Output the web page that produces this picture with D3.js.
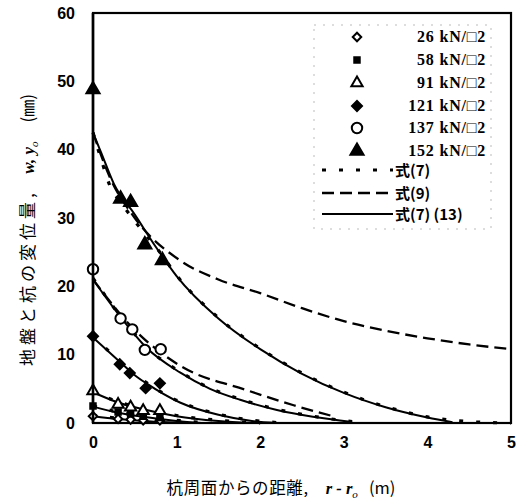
<!DOCTYPE html>
<html>
<head>
<meta charset="utf-8">
<script src="https://cdn.jsdelivr.net/npm/d3@7"></script>
<style>
  html, body { margin: 0; padding: 0; background: #fff; }
  svg { display: block; }
</style>
</head>
<body>
<svg id="chart" width="526" height="504"></svg>
<script>
// Load cases (kN/m2) and measured displacements at distance r - ro (m)
const loads = ["26", "58", "91", "121", "137", "152"];
const meas26  = [[0, 1.0], [0.3, 0.6], [0.45, 0.5], [0.6, 0.4], [0.8, 0.4]];
const meas58  = [[0, 2.5], [0.3, 1.6], [0.45, 1.3], [0.6, 1.0], [0.8, 0.8]];
const meas91  = [[0, 4.7], [0.3, 2.7], [0.45, 2.3], [0.6, 1.8], [0.8, 1.8]];
const meas121 = [[0, 12.7], [0.32, 8.6], [0.44, 7.3], [0.63, 5.1], [0.8, 5.8]];
const meas137 = [[0, 22.5], [0.33, 15.3], [0.47, 13.7], [0.62, 10.7], [0.81, 10.8]];
const meas152 = [[0, 48.8], [0.33, 32.8], [0.45, 32.3], [0.62, 26.1], [0.83, 23.8]];

// Eq.(7)(13) curves
const eq713_152 = [[0, 42.5], [0.1, 39.5], [0.25, 35], [0.5, 30.5], [0.75, 25.8], [1.0, 21.5], [1.5, 15.3], [2, 10.8], [2.5, 7.2], [3, 4.4], [3.5, 2.3], [4, 0.8], [4.3, 0.1]];
const eq713_137 = [[0, 21], [0.33, 15.5], [0.64, 11], [1.04, 7.4], [1.4, 5], [1.76, 3.4], [2.2, 1.9], [2.63, 0.9], [3.1, 0.15]];
const eq713_121 = [[0, 12.5], [0.3, 9.2], [0.5, 7], [0.64, 5.8], [1.04, 3.0], [1.5, 1.2], [1.9, 0.3], [2.2, 0]];
const eq713_91  = [[0, 4.5], [0.3, 3.0], [0.6, 2.0], [1, 1.0], [1.5, 0.3], [1.9, 0]];
const eq713_58  = [[0, 2.4], [0.3, 1.5], [0.6, 0.9], [1.0, 0.3], [1.3, 0]];
const eq713_26  = [[0, 1.0], [0.3, 0.6], [0.6, 0.3], [0.9, 0.1], [1.1, 0]];

// Eq.(7) curves
const eq7_152 = [[0, 42.5], [0.1, 38.5], [0.2, 34.8], [0.35, 32], [0.6, 28], [0.8, 25], [1, 21.6], [1.5, 15.4], [2, 10.9], [2.5, 7.3], [3, 4.5], [3.5, 2.4], [4, 0.9], [4.5, 0.2], [5, 0]];
const eq7_137 = [[0, 21.2], [0.33, 15.6], [0.64, 11.1], [1.04, 7.5], [1.4, 5.1], [1.76, 3.5], [2.2, 2.0], [2.63, 1.0], [3.1, 0.2]];
const eq7_121 = [[0, 12.6], [0.3, 9.3], [0.5, 7.1], [0.64, 5.9], [1.04, 3.1], [1.5, 1.3], [1.9, 0.4], [2.3, 0]];
const eq7_91  = [[0, 4.6], [0.3, 3.1], [0.6, 2.1], [1, 1.1], [1.5, 0.4], [2.0, 0]];
const eq7_58  = [[0, 2.5], [0.3, 1.6], [0.6, 1.0], [1.0, 0.4], [1.4, 0]];
const eq7_26  = [[0, 1.1], [0.3, 0.7], [0.6, 0.4], [0.9, 0.2], [1.2, 0]];

// Eq.(9) curves
const eq9_152 = [[0, 42.5], [0.2, 36], [0.5, 30], [1.04, 23.8], [1.5, 21.0], [2, 19.0], [2.5, 16.8], [3, 14.9], [3.5, 13.5], [4, 12.4], [4.5, 11.5], [5, 10.8]];
const eq9_137 = [[0, 21], [0.5, 13.6], [1.04, 8.4], [1.84, 4.8], [2.4, 2.6], [2.9, 0.9]];

const xTicks = [0, 1, 2, 3, 4, 5];
const yTicks = [0, 10, 20, 30, 40, 50, 60];
const legendLines = ["式(7)", "式(9)", "式(7) (13)"];

const svg = d3.select("#chart");
const x = d3.scaleLinear().domain([0, 5]).range([93, 511]);
const y = d3.scaleLinear().domain([0, 60]).range([423, 13]);

const numFont = "'Liberation Sans', Arial, sans-serif";
const jpFont = "'Noto Sans CJK JP', sans-serif";
const serif = "'Liberation Serif', 'DejaVu Serif', serif";

// axes (labels only, no tick marks)
const xAxis = svg.append("g").attr("transform", `translate(0,${y(0)})`)
  .call(d3.axisBottom(x).tickValues(xTicks).tickSize(0).tickPadding(14).tickFormat(d3.format("d")));
const yAxis = svg.append("g").attr("transform", `translate(${x(0)},0)`)
  .call(d3.axisLeft(y).tickValues(yTicks).tickSize(0).tickPadding(18).tickFormat(d3.format("d")));
[xAxis, yAxis].forEach(a => {
  a.select(".domain").remove();
  a.selectAll("text").attr("font-family", numFont).attr("font-size", 16)
    .attr("font-weight", "bold").attr("fill", "#000");
});

// plot frame
svg.append("rect").attr("x", x(0)).attr("y", y(60))
  .attr("width", x(5) - x(0)).attr("height", y(0) - y(60))
  .attr("fill", "none").attr("stroke", "#000").attr("stroke-width", 2.2);

const plot = svg.append("g");
const line = d3.line().x(d => x(d[0])).y(d => y(d[1])).curve(d3.curveMonotoneX);

const dotted = { dash: "4,13", width: 3.2 };
const dashed = { dash: "12,6", width: 2.3 };

// Eq.(9)
[eq9_152, eq9_137].forEach(c => plot.append("path").attr("d", line(c))
  .attr("fill", "none").attr("stroke", "#000")
  .attr("stroke-width", dashed.width).attr("stroke-dasharray", dashed.dash));

// Eq.(7)(13)
[eq713_152, eq713_137, eq713_121, eq713_91, eq713_58, eq713_26].forEach(c =>
  plot.append("path").attr("d", line(c)).attr("fill", "none")
    .attr("stroke", "#000").attr("stroke-width", 2));

// Eq.(7)
[eq7_152, eq7_137, eq7_121, eq7_91, eq7_58, eq7_26].forEach(c =>
  plot.append("path").attr("d", line(c)).attr("fill", "none")
    .attr("stroke", "#000").attr("stroke-width", dotted.width)
    .attr("stroke-dasharray", dotted.dash));

// y-axis line drawn over curves
svg.append("line").attr("x1", x(0)).attr("x2", x(0)).attr("y1", y(0)).attr("y2", y(60))
  .attr("stroke", "#000").attr("stroke-width", 2.6);

// markers (diamonds are squares turned 45 degrees)
const markers = [
  { data: meas26,  type: d3.symbolSquare,   size: 36, rot: 45, fill: "#fff" },
  { data: meas58,  type: d3.symbolSquare,   size: 30, rot: 0,  fill: "#000" },
  { data: meas91,  type: d3.symbolTriangle, size: 55, rot: 0,  fill: "#fff" },
  { data: meas121, type: d3.symbolSquare,   size: 50, rot: 45, fill: "#000" },
  { data: meas137, type: d3.symbolCircle,   size: 85, rot: 0,  fill: "#fff" },
  { data: meas152, type: d3.symbolTriangle, size: 75, rot: 0,  fill: "#000" }
];
markers.forEach(m => {
  plot.selectAll(null).data(m.data).enter().append("path")
    .attr("d", d3.symbol().type(m.type).size(m.size))
    .attr("transform", d => `translate(${x(d[0])},${y(d[1])}) rotate(${m.rot})`)
    .attr("fill", m.fill).attr("stroke", "#000").attr("stroke-width", 2);
});

// legend
const lg = svg.append("g");
lg.append("rect").attr("x", 314).attr("y", 25).attr("width", 177).attr("height", 204)
  .attr("fill", "#fff").attr("stroke", "#bbb").attr("stroke-width", 1)
  .attr("stroke-dasharray", "2,7");
const rowY = [37, 60, 83, 106, 128, 151];
markers.forEach((m, i) => {
  lg.append("path").attr("d", d3.symbol().type(m.type).size(m.size))
    .attr("transform", `translate(357,${rowY[i]}) rotate(${m.rot})`)
    .attr("fill", m.fill).attr("stroke", "#000").attr("stroke-width", 2);
  lg.append("text").attr("x", 486).attr("y", rowY[i] + 5).attr("text-anchor", "end")
    .attr("font-family", serif).attr("font-size", 16).attr("font-weight", "bold")
    .attr("letter-spacing", 0.8).attr("xml:space", "preserve")
    .text(`${loads[i]} kN/□2`);
});
const lineRows = [
  { y: 170, style: dotted },
  { y: 193, style: dashed },
  { y: 214, style: null }
];
lineRows.forEach((r, i) => {
  const l = lg.append("line").attr("x1", 322).attr("x2", 393)
    .attr("y1", r.y).attr("y2", r.y).attr("stroke", "#000");
  if (r.style) l.attr("stroke-width", r.style.width).attr("stroke-dasharray", r.style.dash);
  else l.attr("stroke-width", 2);
  lg.append("text").attr("x", 395).attr("y", r.y + 6)
    .attr("font-family", jpFont).attr("font-size", 15).attr("font-weight", "bold")
    .text(legendLines[i]);
});

// x-axis title
const xt = svg.append("text").attr("x", 281).attr("y", 494).attr("text-anchor", "middle")
  .attr("font-family", jpFont).attr("font-size", 16.5).attr("xml:space", "preserve");
xt.append("tspan").attr("letter-spacing", 0.6).text("杭周面からの距離,    ");
xt.append("tspan").attr("font-family", serif).attr("font-style", "italic").attr("font-weight", "bold").text("r - r");
xt.append("tspan").attr("font-family", serif).attr("font-style", "italic").attr("font-size", 11).attr("dy", 4).text("o");
xt.append("tspan").attr("dy", -4).text("   (m)");

// y-axis title
const yt = svg.append("text").attr("transform", "translate(34,230) rotate(-90)")
  .attr("text-anchor", "middle").attr("font-family", jpFont).attr("font-size", 17)
  .attr("xml:space", "preserve");
yt.append("tspan").attr("letter-spacing", 4).text("地盤と杭の変位量,  ");
yt.append("tspan").attr("font-family", serif).attr("font-style", "italic").attr("font-weight", "bold").text("w, y");
yt.append("tspan").attr("font-family", serif).attr("font-style", "italic").attr("font-size", 11).attr("dy", 4).text("o");
yt.append("tspan").attr("dy", -4).text("     (㎜)");
</script>
</body>
</html>
